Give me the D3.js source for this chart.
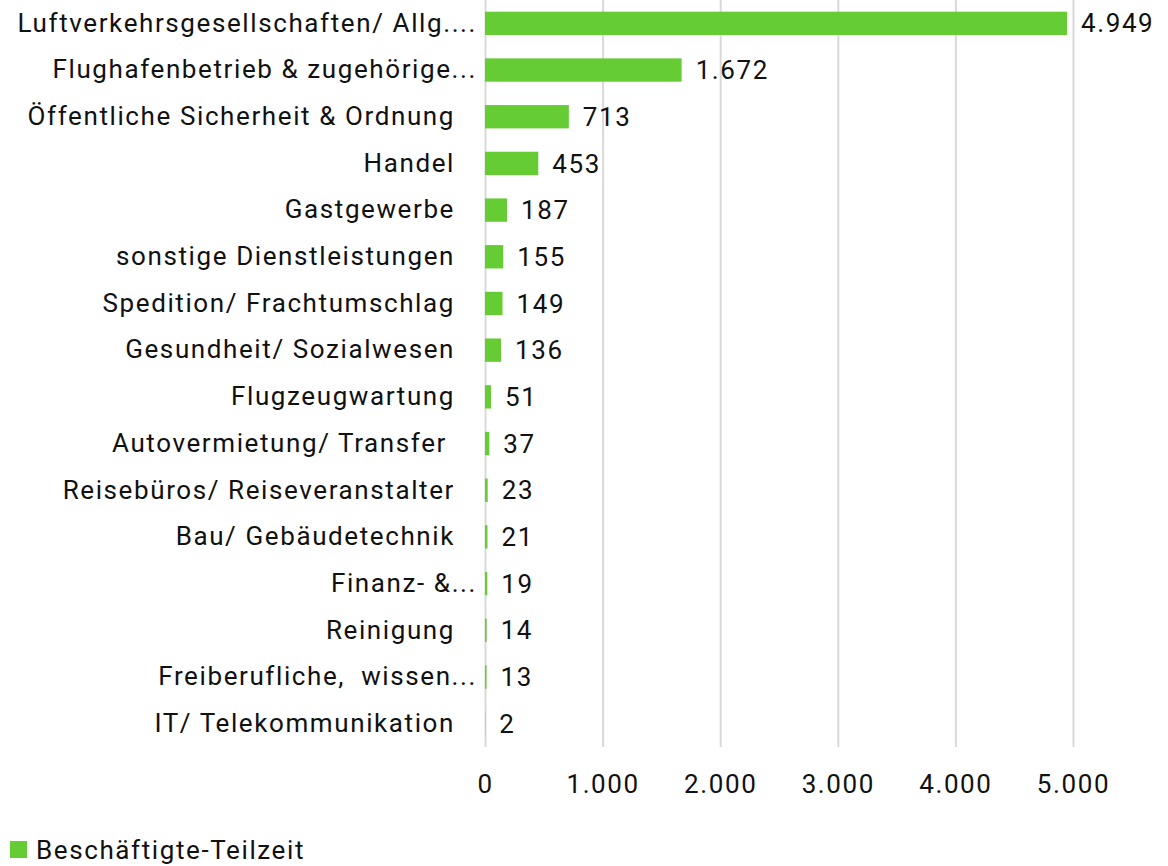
<!DOCTYPE html>
<style>
  body { margin: 0; background: #fff; }
  text { font-family: Roboto, "Noto Sans", sans-serif; letter-spacing: 1.6px; fill: #111; }
</style>
<svg width="1168" height="866"></svg>
<script src="https://d3js.org/d3.v7.min.js"></script>
<script>

  var categories = [
    "Luftverkehrsgesellschaften/ Allg....",
    "Flughafenbetrieb & zugehörige...",
    "Öffentliche Sicherheit & Ordnung",
    "Handel",
    "Gastgewerbe",
    "sonstige Dienstleistungen",
    "Spedition/ Frachtumschlag",
    "Gesundheit/ Sozialwesen",
    "Flugzeugwartung",
    "Autovermietung/ Transfer ",
    "Reisebüros/ Reiseveranstalter",
    "Bau/ Gebäudetechnik",
    "Finanz- &...",
    "Reinigung",
    "Freiberufliche,  wissen...",
    "IT/ Telekommunikation"
  ];

  var values = [4949, 1672, 713, 453, 187, 155, 149, 136, 51, 37, 23, 21, 19, 14, 13, 2];

  var xTicks = [0, 1000, 2000, 3000, 4000, 5000];

  var seriesName = "Beschäftigte-Teilzeit";

  var svg = d3.select("svg"),
    margin = { top: 0, left: 485 },
    width = 588,
    height = 747,
    g = svg.append("g").attr("transform", "translate(" + margin.left + "," + margin.top + ")");

  var data = categories.map(function (c, i) { return { name: c, value: values[i] }; });

  var fmt = d3.formatLocale({ decimal: ",", thousands: ".", grouping: [3], currency: ["", "€"] }).format(",d");

  var x = d3.scaleLinear().domain([0, 5000]).range([0, width]);

  var y = d3.scaleBand()
    .domain(categories)
    .range([0, height])
    .paddingInner(0.5)
    .paddingOuter(0.25);

  // grid
  g.selectAll(".grid")
    .data(xTicks)
    .enter().append("line")
    .attr("x1", function (d) { return x(d) + 0.5; })
    .attr("x2", function (d) { return x(d) + 0.5; })
    .attr("y1", 0)
    .attr("y2", height)
    .attr("stroke", "#d9d9d9")
    .attr("stroke-width", 2);

  // x axis labels
  var xAxis = d3.axisBottom(x).tickValues(xTicks).tickFormat(fmt).tickSize(0).tickPadding(28);
  var xg = g.append("g").attr("transform", "translate(0," + height + ")").call(xAxis);
  xg.select(".domain").remove();
  xg.selectAll("text").attr("font-size", 26).attr("font-family", null).attr("fill", null);

  // bars
  g.selectAll(".bar")
    .data(data)
    .enter().append("rect")
    .attr("x", x(0))
    .attr("y", function (d) { return y(d.name); })
    .attr("width", function (d) { return x(d.value) - x(0); })
    .attr("height", y.bandwidth())
    .attr("fill", "#66cc33");

  // value labels
  g.selectAll(".val")
    .data(data)
    .enter().append("text")
    .attr("x", function (d) { return x(d.value) + 14; })
    .attr("y", function (d) { return y(d.name) + y.bandwidth() / 2; })
    .attr("dy", "0.35em")
    .attr("font-size", 26)
    .text(function (d) { return fmt(d.value); });

  // category labels (truncated ones sit closer to the axis, like excel does)
  var yAxis = d3.axisLeft(y).tickSize(0).tickPadding(30);
  var yg = g.append("g").call(yAxis);
  yg.select(".domain").remove();
  yg.selectAll("text").attr("font-size", 26).attr("font-family", null).attr("fill", null)
    .style("white-space", "pre")
    .attr("x", function (d) { return /\.\.\.$/.test(d) ? -8 : -30; });

  // legend
  var legend = svg.append("g").attr("transform", "translate(10,841)");
  legend.append("rect").attr("width", 17).attr("height", 17).attr("fill", "#66cc33");
  legend.append("text").attr("x", 26).attr("y", 8.5).attr("dy", "0.35em")
    .attr("font-size", 26).text(seriesName);

</script>
